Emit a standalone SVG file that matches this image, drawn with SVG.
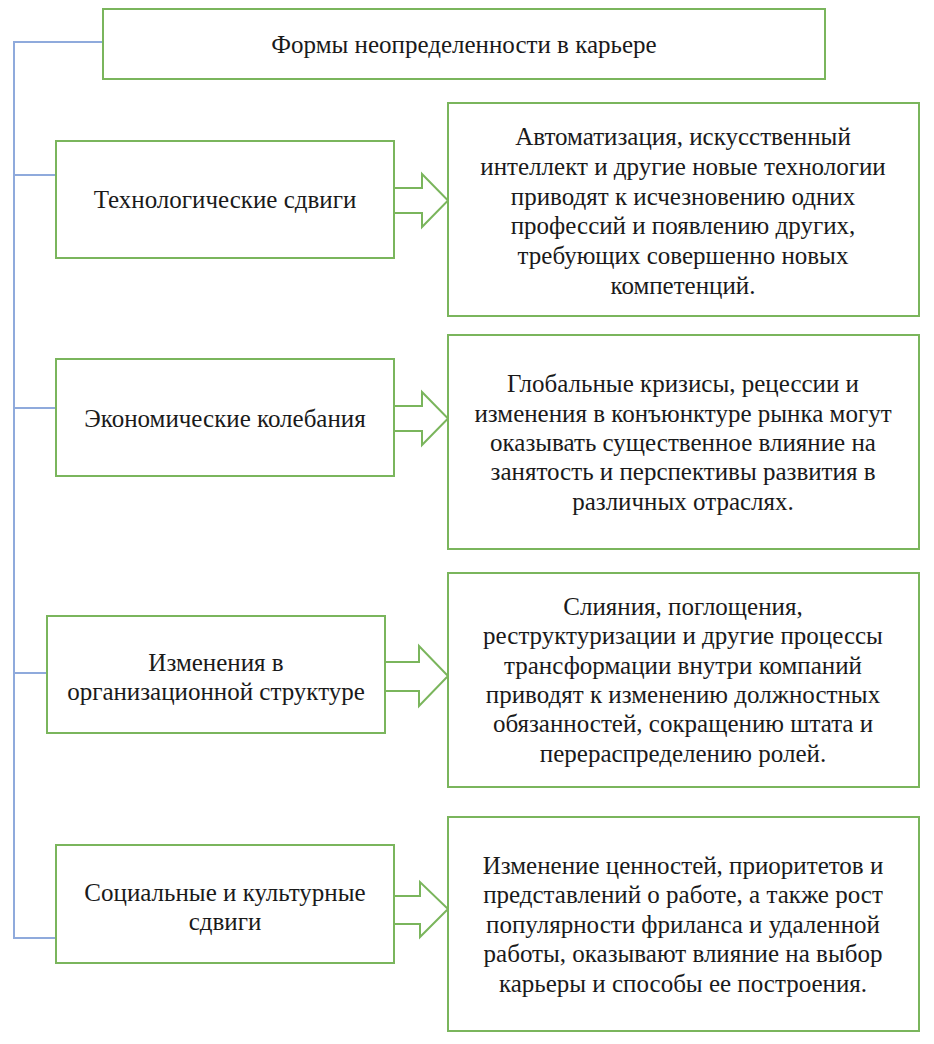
<svg xmlns="http://www.w3.org/2000/svg" width="934" height="1044" viewBox="0 0 934 1044" font-family="Liberation Serif, Times New Roman, serif">
<style>
.box{fill:#fff;stroke:#7AB55C;stroke-width:2}
.arr{fill:#fff;stroke:#7AB55C;stroke-width:2;stroke-linejoin:miter}
.con{fill:none;stroke:#8FAADC;stroke-width:2}
text{font-family:"Liberation Serif","Times New Roman",serif;font-size:25px;fill:#1a1a1a;text-anchor:middle}
</style>
<rect width="934" height="1044" fill="#fff"/>
<g id="connectors">
<path class="con" d="M103,42 H14 V938 H56"/>
<path class="con" d="M14,175 H56"/>
<path class="con" d="M14,408 H56"/>
<path class="con" d="M14,673 H47"/>
<polyline class="arr" points="394,188 422,188 422,174 448,200.5 422,227 422,213 394,213"/>
<polyline class="arr" points="394,406 422,406 422,392 448,418.5 422,445 422,431 394,431"/>
<polyline class="arr" points="385,662 419,662 419,646 448,676 419,706 419,691 385,691"/>
<polyline class="arr" points="394,896 420,896 420,882 448,909 420,937 420,924 394,924"/>
</g>
<g id="root">
<rect class="box" x="103" y="9" width="722" height="70"/>
<text x="464" y="53">Формы неопределенности в карьере</text>
</g>
<g id="tech">
<rect class="box" x="56" y="141" width="338" height="117"/>
<text x="225" y="208">Технологические сдвиги</text>
</g>
<g id="tech-desc">
<rect class="box" x="448" y="103" width="471" height="213"/>
<text x="683" y="145">Автоматизация, искусственный</text>
<text x="683" y="175">интеллект и другие новые технологии</text>
<text x="683" y="205">приводят к исчезновению одних</text>
<text x="683" y="234">профессий и появлению других,</text>
<text x="683" y="264">требующих совершенно новых</text>
<text x="683" y="294">компетенций.</text>
</g>
<g id="econ">
<rect class="box" x="56" y="359" width="338" height="117"/>
<text x="225" y="427">Экономические колебания</text>
</g>
<g id="econ-desc">
<rect class="box" x="448" y="335" width="471" height="214"/>
<text x="683" y="392">Глобальные кризисы, рецессии и</text>
<text x="683" y="422">изменения в конъюнктуре рынка могут</text>
<text x="683" y="451">оказывать существенное влияние на</text>
<text x="683" y="480">занятость и перспективы развития в</text>
<text x="683" y="510">различных отраслях.</text>
</g>
<g id="org">
<rect class="box" x="47" y="616" width="338" height="117"/>
<text x="216" y="671">Изменения в</text>
<text x="216" y="700">организационной структуре</text>
</g>
<g id="org-desc">
<rect class="box" x="448" y="573" width="471" height="214"/>
<text x="683" y="615">Слияния, поглощения,</text>
<text x="683" y="644">реструктуризации и другие процессы</text>
<text x="683" y="674">трансформации внутри компаний</text>
<text x="683" y="703">приводят к изменению должностных</text>
<text x="683" y="732">обязанностей, сокращению штата и</text>
<text x="683" y="762">перераспределению ролей.</text>
</g>
<g id="soc">
<rect class="box" x="56" y="845" width="338" height="118"/>
<text x="225" y="901">Социальные и культурные</text>
<text x="225" y="930">сдвиги</text>
</g>
<g id="soc-desc">
<rect class="box" x="448" y="817" width="471" height="214"/>
<text x="683" y="874">Изменение ценностей, приоритетов и</text>
<text x="683" y="903">представлений о работе, а также рост</text>
<text x="683" y="933">популярности фриланса и удаленной</text>
<text x="683" y="962">работы, оказывают влияние на выбор</text>
<text x="683" y="992">карьеры и способы ее построения.</text>
</g>
</svg>
